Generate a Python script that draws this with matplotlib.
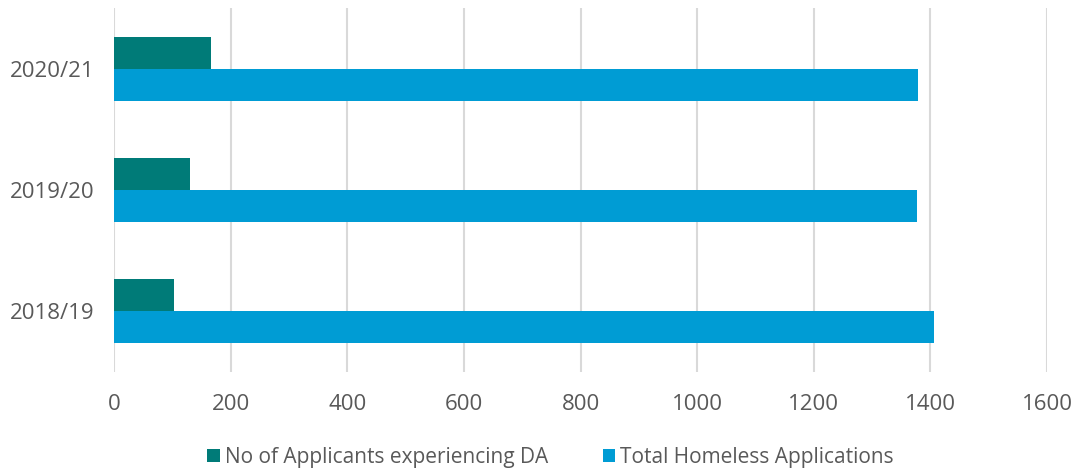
import numpy as np
import matplotlib.pyplot as plt

plt.rcParams['font.family'] = ['Open Sans', 'DejaVu Sans']

years = ["2018/19", "2019/20", "2020/21"]
da_applicants = [102, 130, 166]
total_homeless = [1407, 1377, 1378]

TEAL = "#007B78"
BLUE = "#009CD4"
GREY = "#595959"

fig = plt.figure(figsize=(10.76, 4.70), dpi=100)
ax = fig.add_axes([0.106, 0.2085, 0.867, 0.7745])

y = np.arange(len(years))
h = 0.263
ax.barh(y + h / 2, da_applicants, height=h, color=TEAL,
        label="No of Applicants experiencing DA", zorder=3)
ax.barh(y - h / 2, total_homeless, height=h, color=BLUE,
        label="Total Homeless Applications", zorder=3)

ax.set_xlim(0, 1600)
ax.set_ylim(-0.5, len(years) - 0.5)
ax.set_xticks(np.arange(0, 1601, 200))
ax.set_yticks(y)
ax.set_yticklabels(years)

ax.grid(axis="x", color="#d9d9d9", linewidth=1.5, zorder=0)
for s in ax.spines.values():
    s.set_visible(False)
ax.tick_params(length=0, labelsize=16, colors=GREY, pad=14)
ax.tick_params(axis="x", pad=16)

ax.legend(loc="center", bbox_to_anchor=(0.468, -0.235), ncol=2,
          frameon=False, fontsize=15, labelcolor=GREY,
          handlelength=0.6, handleheight=0.6, handletextpad=0.25,
          columnspacing=2.6)

fig.savefig("out.png", dpi=100)
